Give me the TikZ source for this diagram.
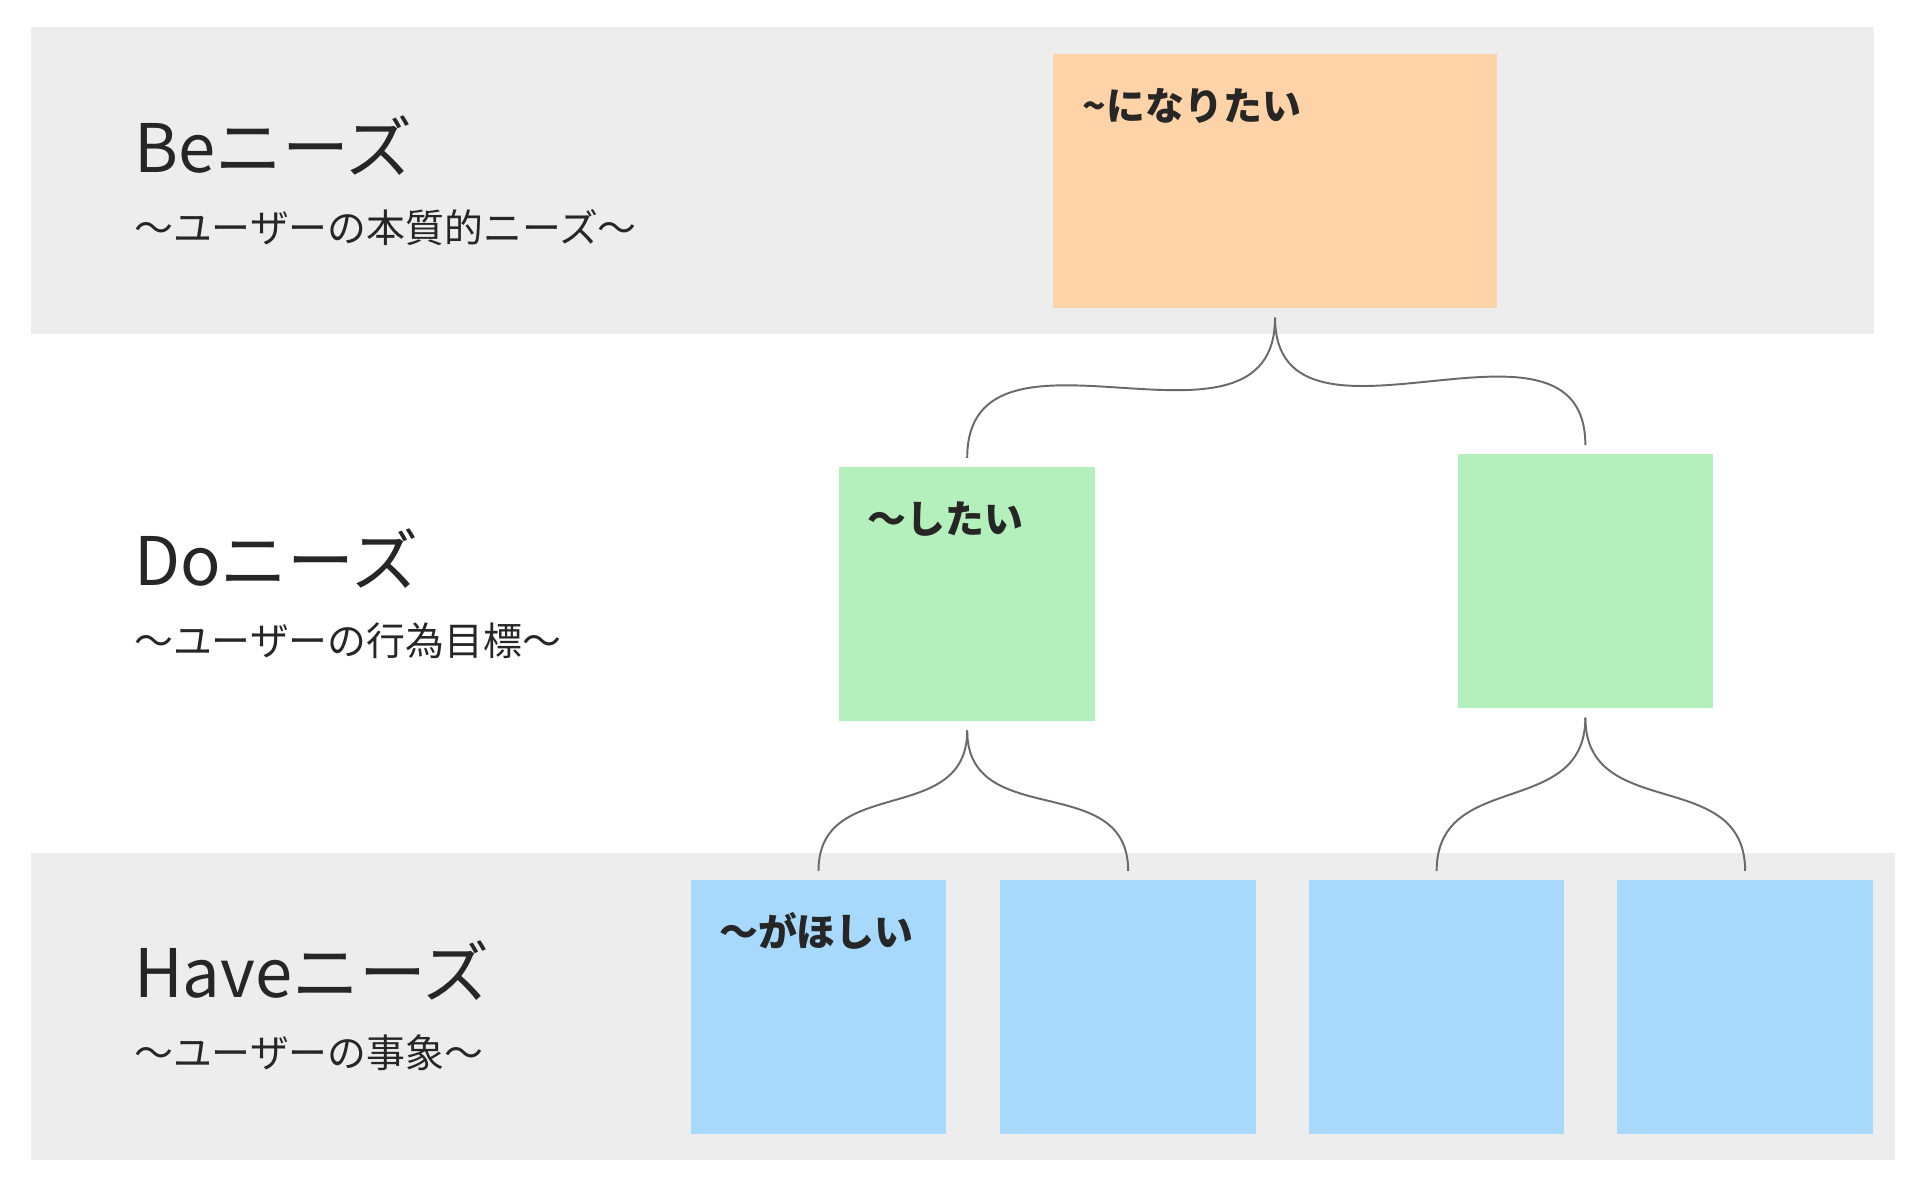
\documentclass[tikz,border=0pt]{standalone}
\usepackage{fontspec}
\setmainfont{Noto Sans CJK JP}
\usetikzlibrary{positioning}
\definecolor{bandgray}{HTML}{EDEDED}
\definecolor{beorange}{HTML}{FFD3A8}
\definecolor{dogreen}{HTML}{B3F0BB}
\definecolor{haveblue}{HTML}{A6D9FC}
\definecolor{linkgray}{HTML}{6A6A6A}
\begin{document}
\begin{tikzpicture}[x=0.02cm,y=-0.02cm,
    band/.style={fill=bandgray,draw=none},
    note/.style={draw=none,minimum width=4.16cm,minimum height=4.14cm,inner sep=0pt},
    title/.style={anchor=base west,font=\fontsize{31}{34}\selectfont,text=black!85},
    sub/.style={anchor=base west,font=\fontsize{18}{20}\selectfont,text=black!85},
    notetext/.style={anchor=base west,font=\bfseries\fontsize{18}{20}\selectfont,text=black!85},
    link/.style={draw=linkgray,line width=0.9pt,out=-90,in=90,looseness=1.25,
                 shorten >=4pt,shorten <=4pt}]

        % background
        \useasboundingbox (0,0) rectangle (1568,965);
        \fill[white] (0,0) rectangle (1568,965);
        \path[band] (25,22) rectangle (1525,272);
        \path[band] (25,694) rectangle (1542,944);

        % level labels
        \node[title] (betitle) at (103,140) {Beニーズ};
        \node[sub] (besub) at (103,197) {〜ユーザーの本質的ニーズ〜};
        \node[title] (dotitle) at (103,476) {Doニーズ};
        \node[sub] (dosub) at (103,533) {〜ユーザーの行為目標〜};
        \node[title] (havetitle) at (103,812) {Haveニーズ};
        \node[sub] (havesub) at (103,869) {〜ユーザーの事象〜};

        % sticky notes
        \node[note,fill=beorange,minimum width=7.22cm] (be) at (1037.5,147.5) {};
        \node[note,fill=dogreen] (do1) at (787,483.5) {};
        \node[note,fill=dogreen] (do2) at (1290,473) {};
        \foreach \i/\x in {1/666,2/918,3/1169,4/1420}
            \node[note,fill=haveblue] (have\i) at (\x,819.5) {};

        \node[notetext] (betext) at (875,98) {\char"7E になりたい};
        \node[notetext] (dotext) at (700,434) {〜したい};
        \node[notetext] (havetext) at (579,770) {〜がほしい};

        % links
        \path[link] (be.south) edge (do1.north)
                    (be.south) edge (do2.north)
                    (do1.south) edge (have1.north)
                    (do1.south) edge (have2.north)
                    (do2.south) edge (have3.north)
                    (do2.south) edge (have4.north);

\end{tikzpicture}
\end{document}
